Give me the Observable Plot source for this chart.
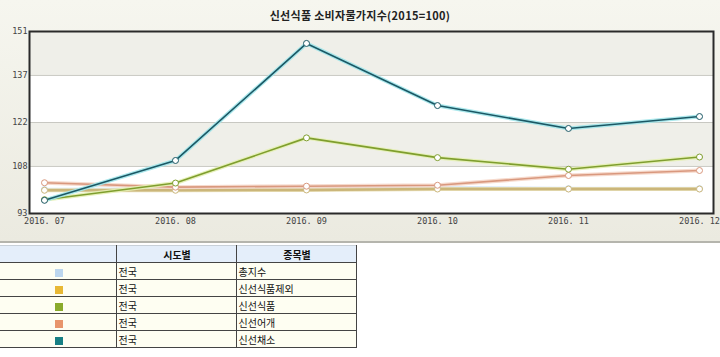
<!DOCTYPE html>
<html><head><meta charset="utf-8">
<script src="https://cdn.jsdelivr.net/npm/d3@7"></script>
<script src="https://cdn.jsdelivr.net/npm/@observablehq/plot@0.6"></script>
<style>
body{margin:0;width:720px;height:357px;background:#fff;font-family:"Noto Sans CJK KR","Noto Sans",sans-serif;overflow:hidden}
#panel{position:relative;width:720px;height:241px;background:linear-gradient(#f6f6ef,#ebeae0);border-bottom:2px solid #b5b5ad}
#title{position:absolute;top:6px;left:0;width:720px;text-align:center;font-size:11px;font-weight:bold;color:#222;line-height:18px;letter-spacing:0.3px}
#chart{position:absolute;top:24px;left:0}
table{border-collapse:collapse;table-layout:fixed;width:356px;margin-top:2px;font-size:10px;color:#111}
td,th{height:16px;padding:0 0 0 2px;border:1px solid #444;line-height:15px;white-space:nowrap;overflow:hidden}
th{background:#e4eefa;font-weight:bold;text-align:center;border-color:#c8d0d8 #444 #444 #444}
td{background:#fefef2}
td.sw{text-align:center;border-left:none}
th.sw{border-left:none}
.box{display:inline-block;width:8px;height:8px;vertical-align:middle}
</style></head>
<body>
<div id="panel"><div id="title">신선식품 소비자물가지수(2015=100)</div><div id="chart"></div></div>
<table id="legend"></table>
<script>
const months = ["2016. 07","2016. 08","2016. 09","2016. 10","2016. 11","2016. 12"];
const seriesNames = ["총지수","신선식품제외","신선식품","신선어개","신선채소"];
const regionName = "전국";
const total      = [100.6, 100.7, 101.0, 101.2, 100.9, 100.9];
const exFresh    = [100.4, 100.4, 100.5, 100.8, 100.8, 100.8];
const freshFood  = [97.4, 102.7, 117.1, 110.8, 107.1, 111.0];
const freshFish  = [102.8, 101.4, 101.7, 102.0, 105.1, 106.7];
const freshVeg   = [97.2, 109.9, 147.2, 127.4, 120.1, 123.9];
const yTicks = [93, 108, 122, 137, 151];
const swatchColors = ["#bcd6ee","#e8b834","#8aaa2c","#e8956c","#177f84"];
const lineColors  = ["#bcd6ee","#cbb67a","#7f9e2e","#d9987e","#1b5865"];
const glowColors  = ["#dbe9f6","#e6dcb0","#e4efb4","#f5d6c8","#a2e6ea"];

const valueSets = [total, exFresh, freshFood, freshFish, freshVeg];
const data = valueSets.map((vals, s) => months.map((m, i) => ({series: seriesNames[s], month: m, value: vals[i]})));

const bands = [[137,151],[108,122]];
const marks = [
  Plot.frame({fill: "white", stroke: "none"}),
  Plot.rect(bands, {y1: d => d[0], y2: d => d[1], fill: "#efefe9"}),
  Plot.ruleY(yTicks.slice(1, -1), {stroke: "#c8c8c2", strokeWidth: 1})
];
const order = [0, 1, 3, 2, 4];
for (const s of order) {
  marks.push(Plot.line(data[s], {x: "month", y: "value", stroke: glowColors[s], strokeWidth: 4, strokeOpacity: 0.9}));
  marks.push(Plot.line(data[s], {x: "month", y: "value", stroke: lineColors[s], strokeWidth: s === 1 ? 2.5 : 1.6}));
}
for (const s of order) {
  marks.push(Plot.dot(data[s], {x: "month", y: "value", r: 3, fill: "white", stroke: lineColors[s], strokeWidth: 1}));
}
marks.push(Plot.frame({stroke: "#2a2a2a", strokeWidth: 2}));

const chart = Plot.plot({
  width: 720, height: 216,
  marginTop: 7, marginBottom: 27, marginLeft: 29, marginRight: 7,
  style: {background: "transparent", fontFamily: "'DejaVu Sans Mono', monospace", fontSize: "8.5px", color: "#444"},
  x: {type: "point", domain: months, padding: 0, insetLeft: 14, insetRight: 13, label: null, tickSize: 0, tickPadding: 4},
  y: {domain: [93, 151], ticks: yTicks, label: null, tickSize: 0, tickPadding: 2},
  marks
});
document.getElementById("chart").appendChild(chart);

const tbl = document.getElementById("legend");
let html = '<colgroup><col style="width:116px"><col style="width:120px"><col style="width:120px"></colgroup>';
html += '<tr><th class="sw"></th><th>시도별</th><th>종목별</th></tr>';
seriesNames.forEach((n, i) => {
  html += `<tr><td class="sw"><span class="box" style="background:${swatchColors[i]}"></span></td><td>${regionName}</td><td>${n}</td></tr>`;
});
tbl.innerHTML = html;
</script>
</body></html>
